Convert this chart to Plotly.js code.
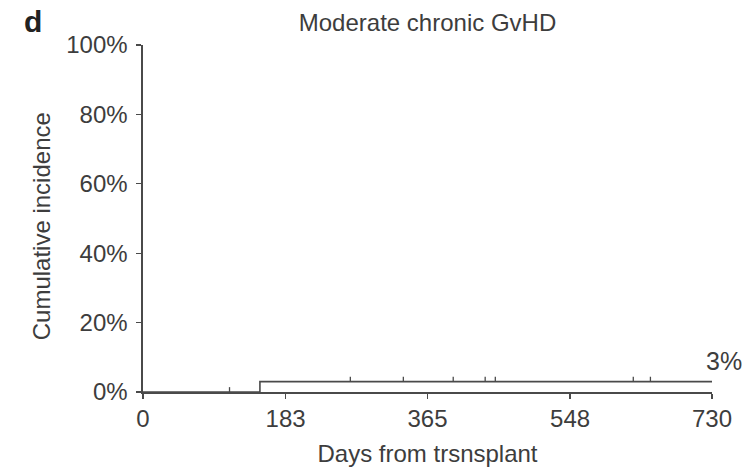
<!DOCTYPE html>
<html>
<head>
<meta charset="utf-8">
<script src="https://cdn.plot.ly/plotly-3.0.1.min.js"></script>
<style>
html,body{margin:0;padding:0;background:#fff;}
#chart{width:744px;height:468px;}
</style>
</head>
<body>
<div id="chart"></div>
<script>
// Step curve (days, cumulative incidence %)
const stepDays = [0, 150, 730];
const stepIncidence = [0, 3, 3];
// Censoring times (days)
const censorDays = [111, 266, 334, 398, 439, 452, 629, 651];
// Axis ticks
const xTicks = [0, 183, 365, 548, 730];
const xTickLabels = ['0', '183', '365', '548', '730'];
const yTicks = [0, 20, 40, 60, 80, 100];
const yTickLabels = ['0%', '20%', '40%', '60%', '80%', '100%'];
const finalLabel = '3%';
const panelLetter = 'd';
const chartTitle = 'Moderate chronic GvHD';
const xTitle = 'Days from trsnsplant';
const yTitle = 'Cumulative incidence';

function levelAt(t) {
  let v = stepIncidence[0];
  for (let i = 0; i < stepDays.length; i++) { if (stepDays[i] <= t) v = stepIncidence[i]; }
  return v;
}
const censorLevels = censorDays.map(levelAt);

const lineCol = '#4a4a4a';
const textCol = '#3d3d3d';
const fontFam = '"Liberation Sans", Arial, Helvetica, sans-serif';

const traces = [
  {
    x: stepDays, y: stepIncidence, type: 'scatter', mode: 'lines',
    line: {shape: 'hv', color: lineCol, width: 1.6},
    hoverinfo: 'skip', showlegend: false
  },
  {
    x: censorDays, y: censorLevels, type: 'scatter', mode: 'markers',
    marker: {size: 1, color: 'rgba(0,0,0,0)'},
    error_y: {type: 'constant', symmetric: false, value: 1.4, valueminus: 0, width: 0, thickness: 1.3, color: lineCol},
    hoverinfo: 'skip', showlegend: false
  }
];

const layout = {
  width: 744, height: 468,
  margin: {l: 143, r: 32, t: 45, b: 76},
  paper_bgcolor: '#fff', plot_bgcolor: '#fff',
  font: {family: fontFam, color: textCol, size: 24},
  title: {text: chartTitle, font: {size: 24, color: textCol}, x: 0.5, xanchor: 'center', xref: 'paper', y: 0.951, yanchor: 'middle', yref: 'container'},
  xaxis: {
    range: [0, 730], tickvals: xTicks, ticktext: xTickLabels,
    showgrid: false, zeroline: false, showline: true, linecolor: lineCol, linewidth: 1.6,
    ticks: 'outside', ticklen: 5, tickwidth: 1.3, tickcolor: lineCol,
    tickfont: {size: 24, color: textCol},
    title: {text: xTitle, font: {size: 24, color: textCol}, standoff: 14}
  },
  yaxis: {
    range: [0, 100], tickvals: yTicks, ticktext: yTickLabels,
    showgrid: false, zeroline: false, showline: true, linecolor: lineCol, linewidth: 1.6,
    ticks: 'outside', ticklen: 5, tickwidth: 1.3, tickcolor: lineCol,
    ticklabelstandoff: 4,
    tickfont: {size: 24, color: textCol}
  },
  annotations: [
    {text: yTitle, xref: 'paper', yref: 'paper', x: -0.179, y: 0.478, textangle: -90, xanchor: 'center', yanchor: 'middle', showarrow: false, font: {size: 24, color: textCol}},
    {text: '<b>' + panelLetter + '</b>', xref: 'paper', yref: 'paper', x: -0.193, y: 1.069, xanchor: 'center', yanchor: 'middle', showarrow: false, font: {size: 30, color: '#222'}},
    {text: finalLabel, xref: 'x', yref: 'y', x: 730, y: stepIncidence[stepIncidence.length - 1], xanchor: 'center', yanchor: 'bottom', yshift: 5, xshift: 12, showarrow: false, font: {size: 25, color: textCol}}
  ]
};

Plotly.newPlot('chart', traces, layout, {displayModeBar: false, staticPlot: true});
</script>
</body>
</html>
